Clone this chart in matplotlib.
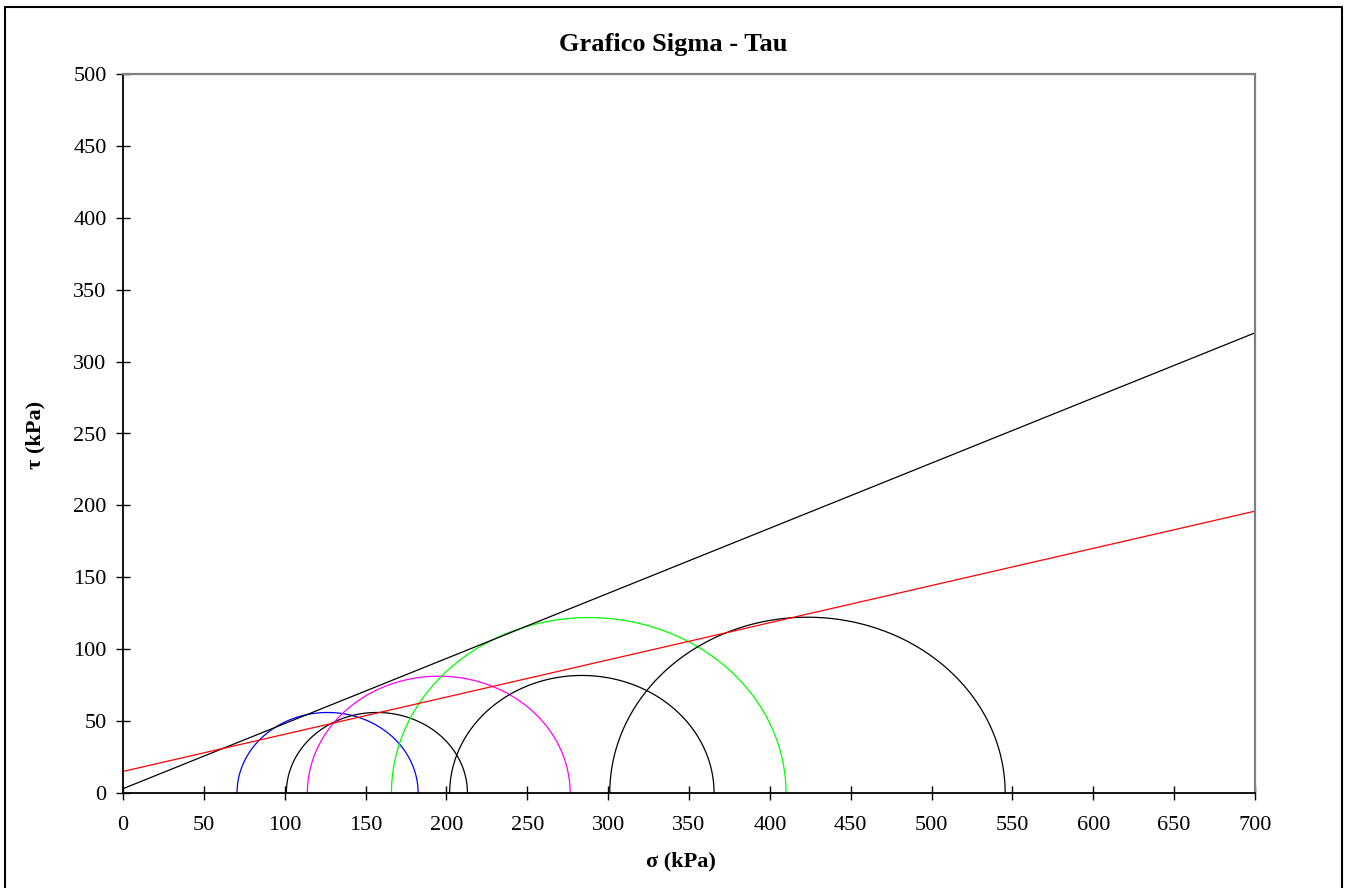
import numpy as np
import matplotlib.pyplot as plt
from matplotlib.lines import Line2D

plt.rcParams["font.family"] = ["Liberation Serif", "DejaVu Serif"]

# Mohr circles: minor and major principal stresses (kPa)
sigma3 = [70.5, 101, 114, 166, 202, 301]
sigma1 = [182.5, 213, 276.5, 410, 365.5, 545.5]
circle_colors = ["#0000FF", "black", "#FF00FF", "#00FF00", "black", "black"]

# failure envelopes: cohesion (kPa) and tau at sigma = 700
env_c = [3, 15]
env_tau700 = [320, 196]
env_colors = ["black", "#FF0000"]

fig = plt.figure(figsize=(13.45, 8.88), dpi=100)
ax = fig.add_axes([123 / 1345, 1 - 793 / 888, 1132 / 1345, 719 / 888])

theta = np.linspace(0, np.pi, 400)
for s3, s1, col in zip(sigma3, sigma1, circle_colors):
    cen = (s1 + s3) / 2
    r = (s1 - s3) / 2
    ax.plot(cen + r * np.cos(theta), r * np.sin(theta), color=col, lw=0.9)

xs = np.array([0, 700])
for c, t7, col in zip(env_c, env_tau700, env_colors):
    ax.plot(xs, c + (t7 - c) / 700 * xs, color=col, lw=0.9)

ax.set_xlim(0, 700)
ax.set_ylim(0, 500)
ax.set_xticks(np.arange(0, 701, 50))
ax.set_yticks(np.arange(0, 501, 50))
ax.tick_params(direction="inout", length=9.5, width=1, labelsize=16)
ax.tick_params(axis="x", pad=12)
ax.tick_params(axis="y", pad=7)

for s in ["left", "bottom"]:
    ax.spines[s].set_color("black")
    ax.spines[s].set_linewidth(1.3)
for s in ["top", "right"]:
    ax.spines[s].set_color("#808080")
    ax.spines[s].set_linewidth(1.6)

fig.text(673 / 1345, 1 - 44 / 888, "Grafico Sigma - Tau", ha="center", va="center",
         fontsize=19, fontweight="bold")
fig.text(681 / 1345, 1 - 861 / 888, "σ (kPa)", ha="center", va="center",
         fontsize=16, fontweight="bold")
fig.text(35 / 1345, 1 - 435 / 888, "τ (kPa)", ha="center", va="center",
         fontsize=16, fontweight="bold", rotation=90)

# chart frame (open at the bottom, as in the original)
xl, xr, yt = 5 / 1345, 1342 / 1345, 1 - 7 / 888
fig.lines.append(Line2D([xl, xl, xr, xr], [0, yt, yt, 0],
                        transform=fig.transFigure, color="black", lw=1.5))

plt.savefig("out.png", dpi=100)
